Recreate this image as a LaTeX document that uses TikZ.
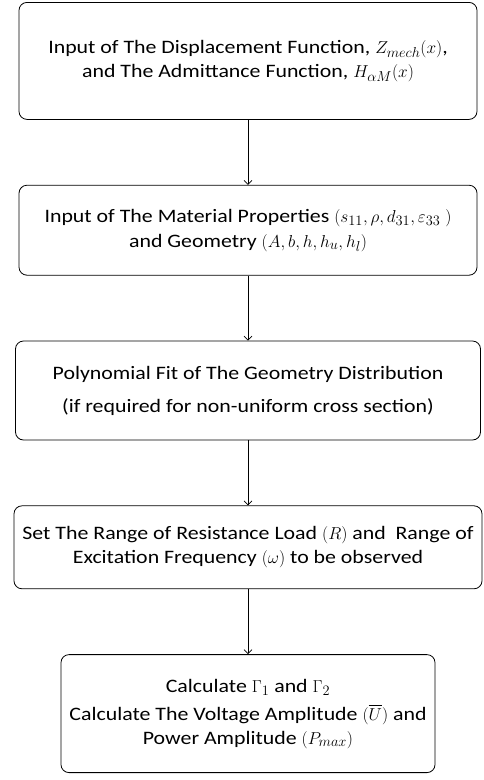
\documentclass[tikz,border=0pt]{standalone}
\usepackage{amsmath}
\usepackage{fontspec}
\setmainfont[FakeStretch=1.15]{Carlito}
\usetikzlibrary{arrows.meta,positioning}

\begin{document}
\begin{tikzpicture}[
  x=1pt, y=1pt,
  font=\fontsize{19}{24}\selectfont,
  node distance=65pt,
  box/.style={draw, line width=0.8pt, rounded corners=8pt, align=center, inner sep=2pt},
  arr/.style={-{Straight Barb[length=4pt,width=8pt]}, line width=0.7pt}
]
\useasboundingbox (0,0) rectangle (484,-780);
\node[box, minimum width=458pt, minimum height=117pt, anchor=north] (disp) at (248,-2)
  {Input of The Displacement Function, $Z_{mech}(x)$,\\ and The Admittance Function, $H_{\alpha M}(x)$};
\node[box, below=of disp, minimum width=458pt, minimum height=90pt] (matl)
  {Input of The Material Properties $(s_{11},\rho,d_{31},\varepsilon_{33}\ )$\\[1pt] and Geometry $(A,b,h,h_u,h_l)$};
\node[box, below=of matl, minimum width=465pt, minimum height=99pt] (poly)
  {Polynomial Fit of The Geometry Distribution\\[9pt] (if required for non-uniform cross section)};
\node[box, below=of poly, minimum width=468pt, minimum height=83pt] (range)
  {Set The Range of Resistance Load $(R)$ and \ Range of\\ Excitation Frequency $(\omega)$ to be observed};
\node[box, below=of range, minimum width=374pt, minimum height=118pt] (calc)
  {Calculate $\Gamma_1$ and $\Gamma_2$\\[4pt] Calculate The Voltage Amplitude $(\overline{U})$ and\\ Power Amplitude $(P_{max})$};
\draw[arr] (disp) -- (matl);
\draw[arr] (matl) -- (poly);
\draw[arr] (poly) -- (range);
\draw[arr] (range) -- (calc);
\end{tikzpicture}
\end{document}
